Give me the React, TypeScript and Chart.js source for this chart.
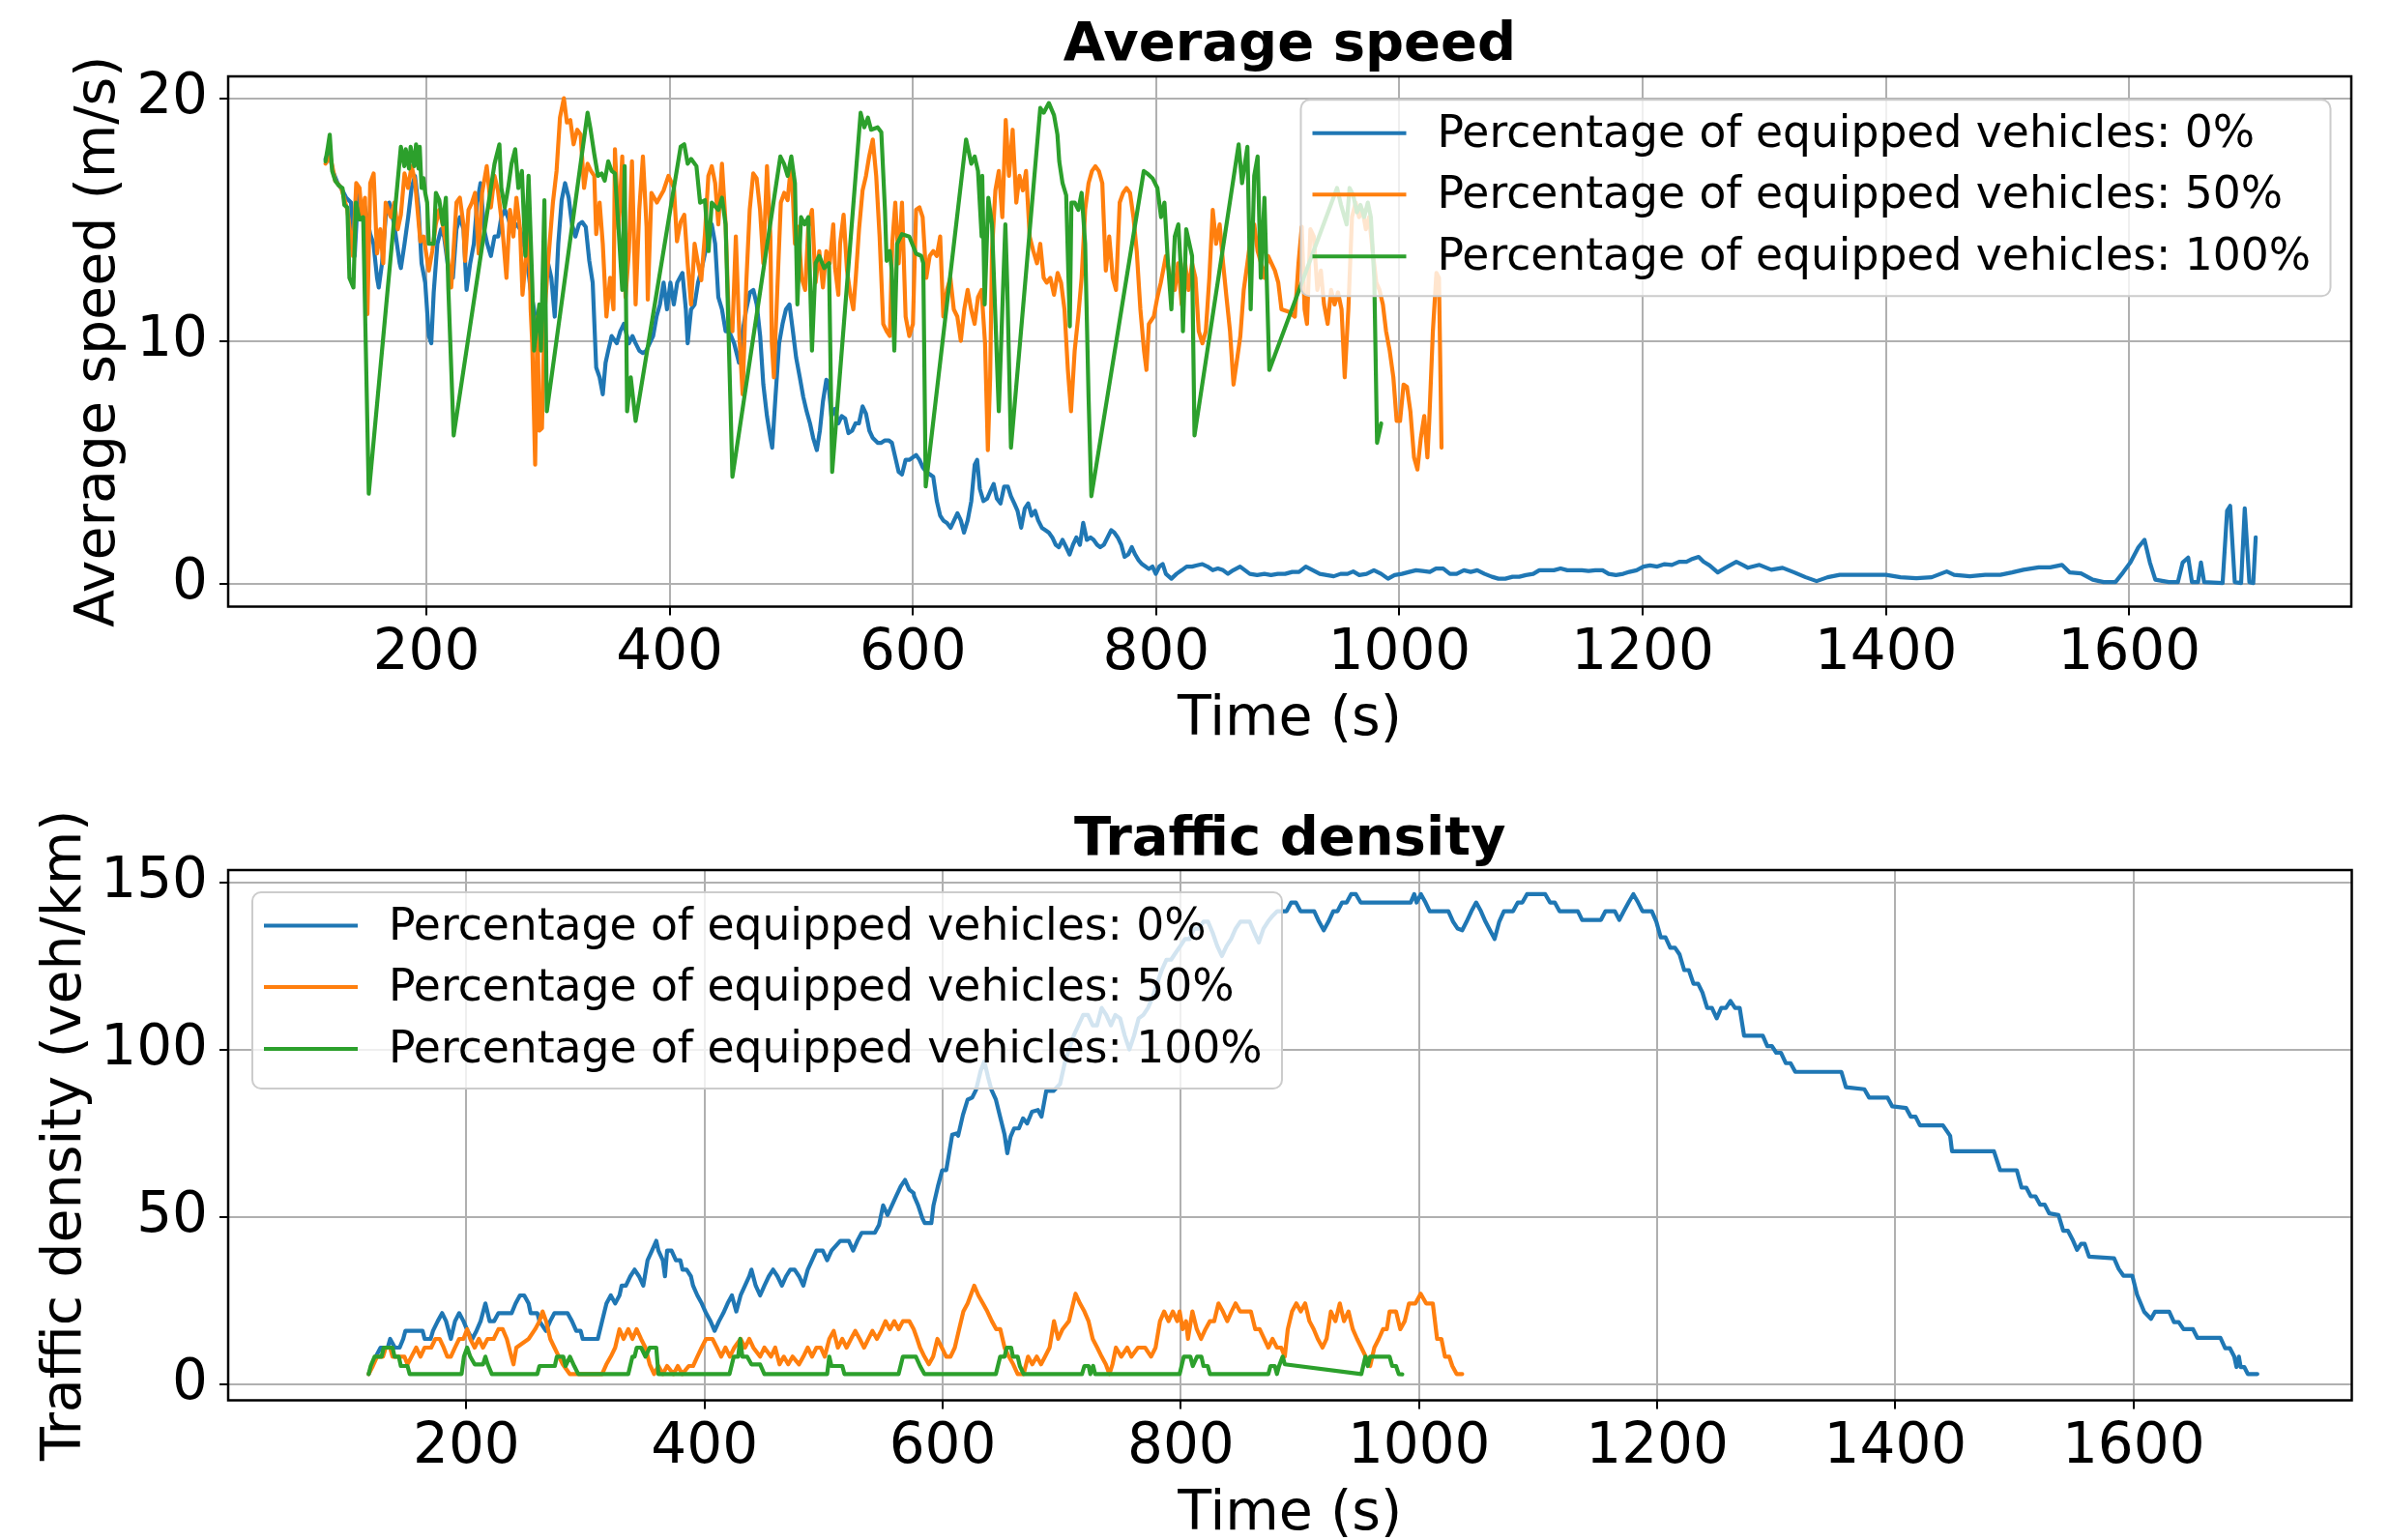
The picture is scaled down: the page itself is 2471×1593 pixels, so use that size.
import React, { useEffect, useRef } from "react";
import { Chart, registerables } from "chart.js";

Chart.register(...registerables);

const FONT = '"DejaVu Sans", "Liberation Sans", sans-serif';
const BLUE = "#1f77b4";
const ORANGE = "#ff7f0e";
const GREEN = "#2ca02c";

type Pt = [number, number];

// ---------- tick labels / texts ----------
const xTicks = [200, 400, 600, 800, 1000, 1200, 1400, 1600];
const speedTicks = [0, 10, 20];
const densityTicks = [0, 50, 100, 150];
const legendLabels = [
  "Percentage of equipped vehicles: 0%",
  "Percentage of equipped vehicles: 50%",
  "Percentage of equipped vehicles: 100%",
];

// ---------- Average speed (m/s) ----------
const speed0: Pt[] = [
  [117, 17.5], [120, 17.8], [123, 17.0], [127, 16.5], [131, 16.2], [134, 15.9], [138, 15.7], [141, 13.5], [143.8, 16.1], [146.7, 15.0],
  [149, 15.6], [153.8, 14.4], [156.5, 14.0], [159.4, 12.6], [160.8, 12.2], [163.5, 13.2], [166.5, 15.1], [169.4, 15.7], [173.5, 14.8], [178, 13.2],
  [179, 13.0], [182, 14.0], [185, 15.1], [187.8, 16.3], [190.6, 16.8], [193.5, 15.5], [196, 13.2], [199, 12.4], [202, 10.2], [204, 9.9],
  [206, 12.0], [209, 14.0], [212, 14.6], [214.5, 14.3], [219, 12.6], [221.8, 12.6], [224.7, 14.6], [227.5, 15.1], [230.5, 14.6], [233, 12.1],
  [236, 13.2], [239, 14.0], [241.7, 15.7], [244.5, 16.5], [247.4, 14.6], [250, 14.0], [253, 13.5], [256, 14.3], [259, 14.3], [261.6, 15.1],
  [264.5, 15.4], [267, 15.1], [270, 14.6], [274.3, 14.8], [277, 14.6], [280, 14.0], [283, 13.2], [285.7, 12.1], [288.5, 11.3], [291.3, 10.4],
  [294, 10.4], [297, 12.1], [300, 13.2], [302.7, 12.6], [305.5, 11.0], [308.4, 14.0], [311.2, 15.8], [314, 16.5], [317, 15.9], [319.7, 14.8],
  [322.5, 14.3], [325.4, 14.8], [328, 14.9], [331, 14.7], [333.9, 13.3], [336.7, 12.4], [339.6, 8.9], [342.4, 8.5], [345, 7.8], [347.3, 9.1],
  [349.5, 9.6], [352.3, 10.2], [356.5, 9.9], [359.4, 10.4], [362.3, 10.7], [366.5, 9.9], [369.4, 10.2], [372, 9.9], [375, 9.6], [378, 9.5],
  [380.8, 9.6], [383.6, 9.9], [386.4, 10.2], [389.2, 11.0], [392, 11.5], [395, 12.4], [397.8, 11.3], [400.6, 12.4], [403.4, 11.5], [406.2, 12.4],
  [410.5, 12.8], [413.3, 11.3], [414.8, 9.9], [417.6, 11.3], [420.5, 11.5], [423.3, 12.4], [426, 12.9], [429, 13.6], [431.8, 14.3], [434.6, 14.8],
  [437.4, 14.0], [440, 11.8], [443, 11.3], [446, 10.4], [448.8, 10.4], [453, 9.9], [457, 9.1], [460, 10.4], [463, 11.3], [466, 12.0],
  [468.8, 12.1], [471.6, 11.5], [474.4, 10.2], [477, 8.2], [480, 6.9], [482.8, 6.0], [484.3, 5.6], [487, 7.7], [490, 9.9], [492.8, 10.7],
  [495.6, 11.3], [498.5, 11.5], [501.3, 10.4], [504, 9.3], [507, 8.5], [509.8, 7.7], [512.6, 7.1], [515.4, 6.6], [518, 6.0], [521, 5.5],
  [523.5, 6.3], [526, 7.5], [528.8, 8.4], [530.5, 8.3], [533, 6.9], [536, 7.2], [538.7, 6.6], [541.5, 6.9], [544.3, 6.8], [547, 6.2],
  [550, 6.3], [552.8, 6.6], [555.6, 6.6], [558.6, 7.3], [561.4, 7.0], [564.2, 6.3], [567, 6.0], [571, 5.8], [574, 5.8], [577, 5.9],
  [580, 5.9], [582.7, 5.8], [585.5, 5.2], [588.3, 4.6], [591, 4.5], [594, 5.1], [597, 5.1], [600, 5.2], [602.6, 5.3], [605.4, 5.1],
  [608, 4.8], [611, 4.6], [614, 4.5], [616.7, 4.4], [619.6, 3.4], [622.4, 2.8], [625, 2.6], [628, 2.5], [631, 2.3], [633.8, 2.6],
  [636.6, 2.9], [639.4, 2.6], [642, 2.1], [645, 2.6], [648, 3.4], [650.8, 4.9], [652.8, 5.1], [655, 3.9], [658, 3.4], [661, 3.5],
  [663.6, 3.8], [666.4, 4.1], [669, 3.5], [672, 3.3], [675, 4.0], [678, 4.0], [680.6, 3.6], [683.4, 3.3], [686, 3.0], [689, 2.3],
  [692, 3.1], [694.8, 3.3], [697.6, 2.8], [700.4, 3.0], [703, 2.6], [706, 2.3], [709, 2.2], [711.8, 2.1], [714.6, 1.9], [717.4, 1.6],
  [720, 1.5], [723, 1.8], [726, 1.5], [728.8, 1.2], [731.6, 1.6], [734.4, 1.9], [737.3, 1.6], [740, 2.5], [743, 1.8], [746, 1.9],
  [748.6, 1.8], [751.4, 1.6], [754, 1.5], [757, 1.6], [760, 1.9], [763, 2.2], [765.6, 2.1], [768.4, 1.9], [771.3, 1.6], [774, 1.1],
  [777, 1.2], [780, 1.5], [782.7, 1.2], [785.6, 0.96], [788.4, 0.8], [791.2, 0.7], [794, 0.6], [797, 0.7], [799.7, 0.4], [802.6, 0.7],
  [805.4, 0.8], [808, 0.4], [812.5, 0.2], [816.7, 0.4], [821, 0.55], [825, 0.7], [829.4, 0.7], [833.7, 0.75], [838, 0.8], [842.2, 0.7],
  [846.5, 0.55], [850.7, 0.62], [855, 0.55], [859, 0.4], [863.4, 0.55], [869, 0.7], [873, 0.55], [877, 0.4], [883, 0.35], [889, 0.4],
  [894.4, 0.35], [900, 0.4], [906, 0.4], [911.8, 0.48], [917.5, 0.48], [923, 0.7], [928.8, 0.55], [934.5, 0.4], [940.2, 0.35], [946, 0.3],
  [951.6, 0.4], [957.3, 0.4], [962, 0.5], [967, 0.35], [973, 0.4], [979, 0.55], [985, 0.4], [990.6, 0.2], [996, 0.35], [1002, 0.4],
  [1008, 0.48], [1013.6, 0.55], [1019, 0.52], [1025, 0.48], [1030, 0.62], [1036, 0.62], [1041.5, 0.4], [1047, 0.4], [1053, 0.55], [1058.6, 0.48],
  [1064, 0.55], [1070, 0.4], [1076, 0.28], [1081.4, 0.2], [1087, 0.2], [1093, 0.28], [1098.5, 0.28], [1104, 0.35], [1110, 0.4], [1115, 0.55],
  [1121, 0.55], [1127, 0.55], [1132.5, 0.62], [1138, 0.55], [1144, 0.55], [1150, 0.55], [1155.5, 0.52], [1161, 0.55], [1167, 0.55], [1172, 0.4],
  [1178, 0.35], [1184, 0.4], [1189, 0.48], [1195, 0.55], [1200.6, 0.7], [1206, 0.75], [1212, 0.7], [1218, 0.8], [1224, 0.77], [1230, 0.9],
  [1236, 0.9], [1240, 1.0], [1246, 1.1], [1250, 0.9], [1255, 0.75], [1261.7, 0.46], [1268, 0.65], [1277, 0.9], [1283, 0.75], [1286.6, 0.65],
  [1296, 0.77], [1305.7, 0.57], [1315, 0.65], [1324.6, 0.46], [1334, 0.26], [1343, 0.1], [1352, 0.26], [1362, 0.36], [1374.6, 0.36], [1387, 0.36],
  [1400, 0.36], [1412, 0.26], [1425, 0.22], [1437.6, 0.26], [1450, 0.5], [1456, 0.36], [1469, 0.3], [1481.6, 0.36], [1494, 0.36], [1503.7, 0.46],
  [1513, 0.57], [1525.6, 0.67], [1535, 0.67], [1544.7, 0.77], [1551, 0.46], [1560.4, 0.42], [1570, 0.16], [1579, 0.06], [1588.7, 0.06], [1595, 0.46],
  [1601, 0.87], [1607.6, 1.5], [1612.6, 1.8], [1617, 0.87], [1621.5, 0.16], [1632.6, 0.06], [1640, 0.06], [1644, 0.87], [1648.5, 1.07], [1651.6, 0.06],
  [1656.6, 0.06], [1659, 0.87], [1661.6, 0.06], [1676.8, 0.02], [1680.5, 3.0], [1683, 3.2], [1686.8, 0.06], [1692, 0.02], [1695, 3.1], [1698.8, 0.06],
  [1702, 0.02], [1704, 1.9],
];

const speed50: Pt[] = [
  [117, 17.3], [121, 17.6], [125, 16.6], [130, 16.3], [135, 15.4], [139.6, 13.5], [142.3, 16.5], [145, 16.3], [146.7, 15.2], [149.5, 15.9],
  [151.5, 11.1], [153.8, 16.5], [156.6, 16.9], [159.4, 13.6], [162, 14.6], [164.5, 13.2], [166.5, 15.7], [170.8, 15.1], [173.6, 15.7], [176.5, 14.6],
  [179, 15.2], [182, 16.9], [184.9, 16.3], [187.8, 17.2], [190.6, 16.6], [195, 14.1], [197.7, 14.3], [202, 12.9], [204.8, 13.7], [207.7, 14.8],
  [210.5, 15.4], [213.4, 14.8], [216, 14.0], [220.4, 12.2], [224.7, 15.7], [227.5, 15.9], [230.4, 14.8], [231.8, 13.3], [234.6, 15.4], [237.4, 15.7],
  [240, 16.1], [243, 13.6], [245.8, 16.1], [249.6, 17.2], [253, 15.5], [256, 16.8], [258.8, 16.2], [262.2, 14.8], [265.8, 12.6], [268.7, 15.4],
  [271.5, 14.3], [274, 15.9], [277, 14.6], [279, 11.9], [281.4, 13.2], [284.3, 14.6], [285.7, 11.3], [287, 9.9], [289.4, 4.9], [291.3, 11.0],
  [292.8, 6.3], [295, 6.4], [297, 11.0], [300, 13.2], [304, 15.7], [307, 17.0], [309.8, 19.2], [313, 20.0], [315.5, 19.0], [318.3, 19.1],
  [321, 18.1], [324, 18.7], [326.8, 18.5], [329.6, 16.3], [332.5, 17.3], [335.3, 17.0], [338, 16.8], [339.6, 14.4], [342.4, 15.7], [345, 14.0],
  [348, 11.0], [351, 12.6], [353.8, 11.3], [355, 17.9], [358, 14.6], [361, 17.6], [363.7, 11.8], [366.5, 13.7], [369, 17.4], [372, 11.5],
  [375, 15.4], [378, 17.6], [381, 14.7], [382, 11.7], [385, 16.1], [389.5, 15.7], [395, 16.2], [399, 16.8], [403.5, 16.3], [406, 14.1],
  [409, 14.9], [412, 15.2], [414.8, 13.2], [417.6, 11.5], [420.5, 14.0], [423.3, 13.2], [426, 12.5], [429, 14.4], [431.8, 16.8], [434.6, 17.2],
  [437.4, 16.5], [440, 14.8], [443, 17.3], [446, 14.8], [448.8, 10.6], [451.6, 10.4], [454.4, 14.3], [457.3, 10.2], [460, 7.8], [463, 12.4],
  [465.8, 15.4], [468.7, 16.9], [471.5, 16.7], [474.3, 15.4], [477, 13.2], [480, 17.2], [482.8, 14.3], [484, 9.9], [485.7, 8.5], [488.5, 12.1],
  [491.4, 15.7], [494.2, 16.1], [497, 15.8], [500, 17.4], [503, 14.0], [505.7, 14.7], [508.5, 12.6], [511.4, 12.1], [514, 14.7], [517, 15.4],
  [520, 12.4], [523, 13.7], [526, 12.2], [528.8, 13.7], [531.6, 13.2], [534.5, 14.8], [536, 13.0], [538.7, 11.9], [540.1, 14.0], [543, 15.2],
  [545.8, 12.9], [548.6, 11.9], [551, 11.3], [553, 12.6], [555.7, 14.6], [558.6, 16.2], [561.4, 16.8], [564, 17.6], [567, 18.3], [569.8, 16.8],
  [572.6, 14.3], [575.6, 10.7], [578.4, 10.4], [581, 10.2], [583, 14.0], [585.5, 15.7], [588.3, 13.2], [591, 15.7], [594, 11.0], [597, 10.2],
  [600, 10.7], [602.6, 15.4], [605.4, 15.5], [608, 15.1], [611, 12.6], [613.8, 13.5], [616.7, 13.7], [619.6, 13.5], [622.4, 14.3], [625, 11.0],
  [628, 12.1], [630.8, 12.6], [633.6, 11.3], [636.5, 11.0], [639.4, 10.0], [642.2, 11.3], [645, 12.1], [647.8, 11.3], [650.7, 10.7], [653.5, 11.8],
  [656.4, 12.1], [659.3, 9.9], [661.6, 5.5], [663.5, 8.5], [665, 13.7], [667.8, 16.2], [670.6, 17.0], [673.5, 15.1], [676.3, 19.1], [679, 16.8],
  [682, 18.7], [685, 15.7], [687.6, 16.8], [690.4, 16.2], [693, 17.0], [696, 14.3], [699, 13.7], [702, 13.2], [704.7, 14.0], [707.5, 12.6],
  [710, 12.4], [713, 12.6], [716, 11.9], [719, 12.8], [721.8, 12.4], [724.6, 11.3], [727.4, 8.8], [730, 7.1], [733, 9.6], [735.9, 11.0],
  [738.7, 12.6], [741.6, 15.4], [744.4, 16.5], [747.2, 17.0], [750, 17.2], [752.9, 17.0], [755.7, 16.5], [758.6, 12.9], [761.4, 14.3], [764.3, 12.6],
  [767, 12.1], [770, 15.7], [772.8, 16.1], [775.6, 16.3], [778.5, 16.1], [781.3, 15.1], [784, 13.7], [787, 11.3], [790, 9.6], [792, 8.8],
  [794, 10.7], [798, 11.0], [801, 11.8], [803.8, 12.4], [808, 13.5], [812.5, 12.4], [815.3, 12.1], [818, 13.2], [821, 11.5], [823.8, 13.2],
  [826.6, 12.1], [829.5, 13.2], [832.3, 12.6], [835, 10.4], [838, 9.9], [840.8, 10.4], [843.7, 12.6], [846.5, 15.4], [849.3, 14.0], [852.2, 14.8],
  [855, 13.2], [857.8, 11.8], [860.7, 10.4], [863.6, 8.2], [866.4, 9.2], [869.2, 10.2], [872, 12.1], [875, 13.2], [877.8, 14.3], [880.6, 14.8],
  [883.4, 13.7], [886.3, 13.2], [889, 12.6], [892, 13.5], [894.8, 13.2], [897.6, 12.9], [900.4, 12.4], [903, 11.3], [909, 11.2], [914, 11.0],
  [917, 13.2], [919.7, 14.7], [922, 11.3], [924, 10.7], [926.8, 14.6], [929.6, 14.3], [932.5, 12.1], [935.4, 12.9], [938, 11.5], [941, 10.7],
  [943.8, 12.1], [946.7, 11.5], [949.5, 12.0], [952.4, 11.3], [955, 8.5], [958, 11.3], [961, 15.1], [964, 15.7], [966.8, 15.1], [969.6, 15.4],
  [972.4, 14.6], [975, 15.1], [978, 13.7], [981, 12.4], [983.6, 12.1], [986.4, 11.5], [989, 10.4], [992, 9.6], [995, 8.5], [997.7, 6.7],
  [1000.5, 6.7], [1003.4, 8.2], [1006.2, 8.1], [1009, 7.1], [1012, 5.2], [1014.8, 4.7], [1017.6, 6.0], [1020.4, 6.9], [1023, 5.2], [1024.5, 6.7],
  [1027.5, 10.4], [1030.4, 12.8], [1032.5, 12.6], [1034.6, 5.6],
];

const speed100: Pt[] = [
  [117, 17.4], [119, 18.0], [120.5, 18.5], [122.5, 17.0], [125, 16.6], [128, 16.4], [131, 16.3], [132.5, 15.6], [135, 15.5], [136.7, 12.6],
  [140, 12.2], [142, 15.7], [145, 15.0], [148, 15.1], [152.6, 3.7], [179, 18.0], [181.8, 17.2], [183, 17.9], [185.7, 17.1], [187, 18.0],
  [190, 17.2], [191.5, 18.1], [193.5, 17.1], [194.5, 18.0], [196, 16.3], [197.6, 16.7], [199, 16.1], [200.6, 15.7], [202, 14.0], [206, 14.0],
  [207.8, 16.1], [210.6, 15.8], [213.4, 14.8], [216, 15.9], [218, 12.2], [222.4, 6.1], [256, 17.3], [260, 18.1], [261.6, 16.3], [264.4, 15.5],
  [267.2, 16.3], [270, 17.3], [273, 17.9], [275.6, 16.3], [278.5, 17.0], [281.4, 13.5], [284, 16.8], [287, 12.4], [288.5, 9.6], [292.8, 11.5],
  [294.2, 9.6], [297, 15.8], [299, 7.1], [332.5, 19.4], [335, 18.7], [338, 17.7], [341, 16.8], [344, 16.9], [346.6, 16.6], [349.5, 17.4],
  [352.3, 17.0], [355, 16.9], [358, 14.6], [361, 12.1], [363, 17.2], [365, 7.1], [368, 8.5], [372, 6.7], [409, 18.0], [412, 18.1],
  [414.8, 17.3], [417.6, 17.5], [422, 17.2], [425, 15.7], [429, 15.8], [432, 13.7], [434.6, 15.7], [440, 15.4], [443, 15.9], [446, 14.8],
  [451.6, 4.4], [491, 17.6], [494, 17.3], [497, 16.8], [500, 17.6], [503, 16.5], [505, 11.5], [508, 15.1], [511, 14.8], [514, 15.1],
  [517, 9.6], [520, 13.2], [523, 13.5], [527, 13.0], [531, 13.2], [533.6, 4.6], [557, 19.4], [560, 18.8], [563, 19.2], [565.6, 18.7],
  [571, 18.8], [574, 18.6], [577, 15.4], [578.4, 13.3], [581, 13.7], [582.6, 12.9], [584.7, 9.6], [587, 14.0], [591, 14.4], [597, 14.3],
  [602.6, 13.6], [606.8, 13.5], [608.5, 13.2], [610.5, 4.0], [643.7, 18.3], [648, 17.3], [650.8, 17.6], [653.5, 17.0], [656.5, 14.3], [657, 16.8],
  [659, 11.5], [662, 15.9], [665, 14.8], [670.6, 7.1], [673.5, 11.3], [676, 14.8], [677.5, 12.4], [680.6, 5.6], [704.7, 19.6], [707.5, 19.4],
  [711.8, 19.8], [716, 19.3], [718.8, 18.5], [720.3, 17.4], [723, 16.5], [726, 16.0], [729, 10.6], [730.3, 15.7], [733, 15.7], [736, 15.4],
  [738.7, 16.1], [741.6, 14.0], [744.4, 7.7], [746.7, 3.6], [789.8, 17.0], [792.6, 16.9], [797, 16.7], [801, 16.3], [804, 15.1], [806.8, 15.7],
  [809.7, 13.2], [812.5, 11.3], [815.3, 14.3], [818.2, 14.8], [821, 12.4], [822, 10.4], [824.7, 14.6], [829.5, 13.5], [831.5, 6.1], [867.8, 18.1],
  [870.6, 16.5], [875, 18.0], [877.7, 11.3], [880.6, 16.8], [883.4, 17.6], [886, 12.6], [889, 15.9], [893, 8.8], [948.7, 16.3], [952, 15.6],
  [956.6, 14.8], [959, 16.3], [962, 16.0], [965, 15.3], [968, 15.6], [971, 15.1], [974, 15.7], [976.5, 15.1], [979.3, 12.6], [981.6, 5.8],
  [985, 6.6],
];

// ---------- Traffic density (veh/km) ----------
const density0: Pt[] = [
  [118, 3.1], [121, 5.7], [124, 8.3], [128, 11.0], [134, 11.0], [136, 13.6], [140, 11.0], [144, 11.0], [147, 13.6], [148.8, 16.0],
  [163.3, 16.0], [165, 13.6], [170, 13.6], [172, 16.0], [176, 18.9], [179.7, 21.3], [183, 18.9], [187, 13.6], [190.5, 18.9], [194, 21.3],
  [197.6, 18.9], [201, 16.0], [205, 13.6], [208.5, 16.0], [212, 18.9], [216, 24.2], [219.6, 18.9], [223.3, 18.9], [227, 21.3], [238, 21.3],
  [241.4, 24.2], [245, 26.6], [248.6, 26.6], [252.3, 24.2], [254, 21.3], [259.6, 21.3], [261.4, 18.9], [266.8, 16.0], [270.4, 18.9], [274, 21.3],
  [285, 21.3], [288.7, 18.9], [292.3, 16.0], [296, 16.0], [297.7, 13.6], [310.4, 13.6], [314, 18.9], [317.7, 24.2], [321.3, 26.6], [325, 24.2],
  [328.6, 26.6], [330.4, 29.5], [334, 29.5], [337.7, 32.3], [341.3, 34.3], [345, 32.3], [348.6, 29.5], [352.2, 37.1], [355.9, 40.0], [359.5, 42.9],
  [361.3, 40.0], [365, 37.1], [366.8, 32.3], [368.6, 40.0], [372.3, 40.0], [376, 37.1], [379.7, 37.1], [381.5, 34.3], [385, 34.3], [388.6, 32.3],
  [390.4, 29.5], [394, 26.6], [397.7, 24.2], [401.3, 21.3], [405, 18.9], [408.5, 16.0], [412.2, 18.9], [415.8, 21.3], [419.4, 24.2], [423, 26.6],
  [426.7, 21.8], [430.3, 26.6], [434, 29.5], [437.6, 32.3], [439.4, 34.3], [443, 29.5], [446.7, 26.6], [450.3, 29.5], [454, 32.3], [457.6, 34.3],
  [461.3, 32.3], [465, 29.5], [468.5, 32.3], [472, 34.3], [475.7, 34.3], [479.4, 32.3], [483, 29.5], [486.7, 34.3], [490.3, 37.1], [494, 40.0],
  [499.3, 40.0], [503, 37.1], [506.7, 40.0], [514, 42.9], [521.2, 42.9], [524.8, 40.0], [528.4, 42.9], [532, 45.3], [543, 45.3], [546.6, 47.7],
  [550, 53.5], [553.7, 50.6], [557.4, 53.5], [561, 56.3], [564.8, 59.2], [568.4, 61.1], [572, 58.2], [575.6, 57.2], [576, 56.3], [579.4, 53.5],
  [583, 49.6], [585, 48.2], [590.5, 48.2], [592.3, 53.5], [596, 59.2], [599.6, 64.0], [603, 64.0], [604.4, 66.9], [608, 74.6], [611.6, 75.0],
  [613, 74.3], [617, 80.5], [621, 85.1], [624.8, 85.7], [628, 88.0], [632, 93.8], [635, 96.5], [638, 92.0], [641, 88.0], [644.7, 85.1],
  [648, 80.3], [652, 74.6], [654.3, 69.1], [657, 74.0], [660, 76.5], [664, 76.5], [667.5, 79.5], [671, 78.0], [675, 81.5], [680, 82.0],
  [683, 80.0], [687, 87.7], [693, 87.7], [698.6, 89.8], [702.5, 96.0], [706, 100.0], [710, 104.2], [714, 107.3], [718, 110.4], [722, 110.4],
  [726, 107.3], [729.6, 107.3], [733.5, 112.5], [737.4, 110.4], [741.3, 107.3], [745, 110.4], [749, 109.4], [752.9, 104.2], [756.8, 100.1], [760.7, 104.2],
  [764.6, 109.4], [768.5, 110.4], [772.4, 112.5], [776.2, 115.6], [780, 119.7], [784, 123.8], [787.9, 126.9], [791.8, 126.9], [795.7, 129.0], [799.6, 131.0],
  [803.4, 133.1], [807.3, 133.1], [811, 136.2], [815, 136.2], [819, 138.3], [822.8, 138.3], [826.7, 135.0], [830.6, 131.0], [834.5, 128.0], [838.4, 131.0],
  [842.2, 133.1], [846, 136.2], [850, 138.3], [854, 138.3], [857.8, 138.3], [861.7, 135.0], [865.5, 132.1], [869.4, 136.2], [873.2, 138.3], [877, 140.0],
  [881, 141.4], [888.8, 141.4], [892.7, 144.0], [896.6, 144.0], [900.5, 141.4], [912, 141.4], [916, 138.3], [920, 135.7], [924, 138.3], [928, 141.4],
  [931.6, 141.4], [935.4, 144.0], [939.3, 144.0], [943, 146.5], [947, 146.5], [951, 144.0], [962.6, 144.0], [989.7, 144.0], [993, 144.0], [996, 146.5],
  [998, 144.0], [1001.6, 146.5], [1005.5, 144.0], [1009, 141.4], [1013, 141.4], [1024.7, 141.4], [1028.6, 138.3], [1032.5, 136.2], [1036.3, 135.7], [1040, 138.3],
  [1044, 141.4], [1048, 144.0], [1052, 141.4], [1055.8, 138.3], [1059.6, 135.7], [1063.5, 133.1], [1067.4, 138.3], [1071.3, 141.4], [1079, 141.4], [1083, 144.0],
  [1086.8, 144.0], [1090.7, 146.5], [1098.5, 146.5], [1106, 146.5], [1110, 144.0], [1114, 144.0], [1118, 141.4], [1133.4, 141.4], [1137, 138.8], [1152.8, 138.8],
  [1156.6, 141.4], [1164.4, 141.4], [1168.2, 138.8], [1172, 141.4], [1176, 144.0], [1180, 146.5], [1184, 144.0], [1187.7, 141.4], [1195.5, 141.4], [1199.3, 138.3],
  [1203, 133.6], [1207, 133.6], [1211, 130.5], [1215, 130.5], [1218.8, 128.5], [1222.7, 123.8], [1226.6, 123.8], [1230.5, 119.7], [1234.4, 119.7], [1238, 117.1],
  [1242, 112.5], [1246, 112.5], [1250, 109.4], [1253.8, 112.5], [1257.7, 112.5], [1261.5, 114.6], [1265.4, 112.5], [1269.3, 112.5], [1273, 104.2], [1288.7, 104.2],
  [1292.5, 101.1], [1296.4, 101.1], [1300, 99.1], [1304, 99.1], [1308, 96.0], [1312, 96.0], [1316, 93.4], [1354.7, 93.4], [1358.5, 88.8], [1374, 88.2],
  [1378, 85.7], [1393.5, 85.7], [1397.4, 83.1], [1409, 82.6], [1413, 80.0], [1417, 80.0], [1420.7, 77.4], [1440, 77.4], [1446, 74.3], [1447.6, 69.7],
  [1482.8, 69.7], [1488, 64.0], [1502, 64.0], [1506, 58.8], [1510, 58.8], [1513.8, 56.2], [1517.7, 56.2], [1521.6, 53.7], [1525.5, 53.7], [1529.3, 51.1],
  [1537, 50.6], [1541, 45.9], [1545, 45.9], [1548.8, 43.3], [1552.6, 40.2], [1556, 42.0], [1559, 42.0], [1562.7, 38.2], [1583.7, 37.7], [1587.6, 34.5],
  [1591.5, 32.5], [1599, 32.5], [1603, 26.8], [1609, 21.7], [1614.7, 19.6], [1618, 21.7], [1630, 21.7], [1634, 18.6], [1638, 18.6], [1642, 16.5],
  [1650, 16.5], [1653.7, 13.9], [1673, 13.9], [1677, 10.8], [1681, 10.8], [1684.6, 8.3], [1686.5, 5.2], [1688.5, 8.3], [1690, 5.2], [1693, 5.2],
  [1696, 3.1], [1704, 3.1],
];

const density50: Pt[] = [
  [118, 3.1], [121.5, 5.5], [125, 8.3], [130, 8.3], [132.4, 11.0], [136, 11.0], [138, 8.3], [145, 8.3], [148, 8.3], [150.6, 6.0],
  [154, 8.3], [157.9, 11.0], [161.5, 8.3], [165, 11.0], [170.5, 11.0], [174, 13.6], [177.6, 13.6], [181, 11.0], [184, 8.3], [187, 8.3],
  [190.5, 11.0], [194, 13.6], [197.6, 13.6], [200.7, 16.5], [203.3, 13.6], [207, 11.0], [210.5, 13.6], [214, 11.0], [217.8, 13.6], [223, 13.6],
  [227, 16.5], [230.5, 16.5], [234, 13.6], [237.8, 8.3], [239.6, 6.0], [242, 11.0], [252.3, 13.6], [257.8, 16.5], [261.4, 18.9], [264, 21.8],
  [267, 18.9], [270.5, 13.6], [274, 11.0], [277.7, 8.3], [281, 6.0], [286.8, 3.1], [314, 3.1], [317.6, 6.0], [321.3, 8.3], [325, 11.0],
  [328.6, 16.5], [332, 13.6], [336, 16.5], [339.5, 13.6], [343, 16.5], [346.7, 13.6], [350.4, 11.0], [354, 6.0], [357.7, 3.1], [361.3, 5.5],
  [365, 3.1], [368.6, 5.5], [374, 3.1], [377.6, 5.5], [381.3, 3.1], [386.8, 5.5], [390.4, 5.5], [394, 8.3], [397.6, 11.0], [401.3, 13.6],
  [406.7, 13.6], [410.4, 11.0], [414, 8.3], [417.6, 11.0], [421.3, 8.3], [425, 11.0], [430.3, 13.6], [434, 11.0], [437.6, 13.6], [441, 11.0],
  [446.7, 8.3], [450.3, 11.0], [455.8, 8.3], [459.4, 11.0], [463, 6.0], [466.6, 8.3], [470.3, 6.0], [474, 8.3], [479.4, 6.0], [483, 8.3],
  [486.7, 11.0], [490.3, 8.3], [494, 11.0], [497.6, 11.0], [501, 8.3], [504.8, 13.6], [508.5, 16.0], [512, 11.0], [515.7, 13.6], [519.3, 11.0],
  [523, 13.6], [526.6, 16.0], [530.3, 13.6], [534, 11.0], [537.6, 13.6], [541, 16.0], [544.8, 13.6], [548.4, 16.0], [552, 18.9], [555.7, 16.5],
  [559.4, 18.9], [563, 16.5], [566.6, 18.9], [572, 18.9], [575.7, 16.5], [578.6, 13.6], [581, 11.0], [584.7, 8.3], [588.4, 6.0], [592, 8.3],
  [595.6, 13.6], [599.3, 11.0], [603, 8.3], [606.6, 8.3], [610.2, 11.0], [613.8, 16.5], [617.4, 21.8], [621, 24.2], [626.5, 29.5], [630, 26.6],
  [633.8, 24.2], [637.5, 21.8], [641.3, 18.9], [645, 16.5], [648.4, 16.5], [652, 11.0], [655.6, 8.3], [659.3, 6.0], [663, 3.1], [668, 3.1],
  [671.7, 8.3], [675.3, 6.0], [679, 8.3], [682.6, 6.0], [686, 8.3], [689.8, 11.0], [693.5, 18.9], [697, 13.6], [700.7, 16.5], [706, 18.9],
  [711.6, 27.1], [715.3, 24.2], [719, 21.8], [722.5, 18.9], [726, 13.6], [729.8, 11.0], [733.5, 8.3], [737, 6.0], [740, 3.1], [742.6, 6.0],
  [745.5, 11.0], [750, 8.3], [755, 11.0], [758.5, 8.3], [764, 11.0], [770, 11.0], [775, 8.3], [778.8, 11.0], [782.5, 18.9], [786, 21.8],
  [789.7, 18.9], [793.3, 21.8], [797, 18.9], [799, 21.8], [801.5, 16.5], [804.4, 18.9], [806, 13.6], [809.7, 21.8], [813.4, 16.5], [817, 13.6],
  [820.7, 16.5], [824.4, 18.9], [828, 18.9], [831.6, 24.2], [835.3, 21.8], [839, 18.9], [842.6, 21.8], [846, 24.2], [849.7, 21.8], [855, 21.8],
  [858.8, 21.8], [862.5, 16.5], [866.2, 16.5], [870, 13.6], [873.5, 11.0], [877, 13.6], [880.7, 11.0], [884.3, 11.0], [887.3, 8.3], [889.8, 16.5],
  [893.4, 21.8], [897, 24.2], [900.7, 21.8], [904.4, 24.2], [908, 18.9], [911.6, 16.5], [915, 13.6], [919, 11.0], [922.4, 13.6], [926, 21.8],
  [929.8, 18.9], [933.5, 24.2], [937, 18.9], [940.8, 21.8], [944.4, 16.5], [948, 13.6], [951.6, 11.0], [955.3, 8.3], [959, 5.5], [962.5, 11.0],
  [966.2, 13.6], [969.8, 16.5], [973, 16.5], [975.3, 21.8], [980.7, 21.8], [984.3, 16.5], [988, 18.9], [991.6, 24.2], [997, 24.2], [1001.4, 27.1],
  [1006, 24.2], [1011.6, 24.2], [1015.2, 13.6], [1018.8, 13.6], [1021.8, 8.3], [1025.4, 8.3], [1028, 5.5], [1031.6, 3.1], [1036.3, 3.1],
];

const density100: Pt[] = [
  [118, 3.1], [119.7, 5.5], [123, 8.3], [128.8, 8.3], [130.6, 11.0], [138, 11.0], [139.7, 8.3], [143.3, 8.3], [145, 5.5], [150.6, 5.5],
  [152.4, 3.1], [196, 3.1], [198, 8.3], [200.7, 11.0], [203.3, 8.3], [207, 6.0], [214, 6.0], [216, 8.3], [218, 6.0], [221.4, 3.1],
  [259.6, 3.1], [261.4, 5.5], [274.3, 5.5], [276, 8.3], [281.4, 8.3], [283.3, 5.5], [287, 8.3], [290.6, 5.5], [294, 3.1], [336, 3.1],
  [339.5, 8.3], [341.3, 8.3], [343.1, 11.0], [346.8, 11.0], [350.4, 8.3], [354, 11.0], [359.5, 11.0], [361.3, 3.1], [421, 3.1], [424.6, 8.3],
  [428.3, 8.3], [430, 13.6], [431.8, 8.3], [435.8, 8.3], [439.4, 6.0], [446.7, 6.0], [450.3, 3.1], [503, 3.1], [504.8, 8.3], [506.6, 5.5],
  [515.7, 5.5], [517.5, 3.1], [563, 3.1], [566.6, 8.3], [577.5, 8.3], [581, 5.5], [584.7, 3.1], [644.7, 3.1], [648.3, 8.3], [652, 8.3],
  [653.8, 11.0], [657.5, 11.0], [659, 8.3], [663, 8.3], [664.8, 5.5], [668, 3.1], [717, 3.1], [719, 5.5], [722.6, 5.5], [724, 3.1],
  [726.4, 5.5], [728, 3.1], [799, 3.1], [802.5, 8.3], [808, 8.3], [810, 5.5], [813.6, 8.3], [817.3, 8.3], [819, 5.5], [822.6, 5.5],
  [824.4, 3.1], [873.5, 3.1], [875.3, 5.5], [878.9, 5.5], [880.7, 3.1], [882.5, 5.5], [885.5, 8.3], [887.3, 6.0], [951.6, 3.1], [955, 8.3],
  [957, 5.5], [959, 8.3], [962.5, 8.3], [975.3, 8.3], [977.5, 5.5], [980.7, 5.5], [983, 3.1], [986, 3.0],
];

// ---------- panel specs ----------
interface PanelSpec {
  title: string;
  yLabel: string;
  series: Pt[][];
  yTicks: number[];
  xMin: number;
  xMax: number;
  yMin: number;
  yMax: number;
  canvasH: number;
  padTop: number;
  padRight: number;
  xAxisH: number;
  titleY: number;
  xLabelY: number;
  yLabelX: number;
  legendX: number;
  legendY: number;
}

const panels: PanelSpec[] = [
  {
    title: "Average speed",
    yLabel: "Average speed (m/s)",
    series: [speed0, speed50, speed100],
    yTicks: speedTicks,
    xMin: 37,
    xMax: 1782.6,
    yMin: -0.95,
    yMax: 20.9,
    canvasH: 790,
    padTop: 79,
    padRight: 39,
    xAxisH: 162.5,
    titleY: 62,
    xLabelY: 760,
    yLabelX: 118,
    legendX: 1345.5,
    legendY: 103.3,
  },
  {
    title: "Traffic density",
    yLabel: "Traffic density (veh/km)",
    series: [density0, density50, density100],
    yTicks: densityTicks,
    xMin: 0,
    xMax: 1783.3,
    yMin: -4.75,
    yMax: 153.7,
    canvasH: 803,
    padTop: 110,
    padRight: 38.5,
    xAxisH: 144.5,
    titleY: 93.5,
    xLabelY: 791.5,
    yLabelX: 83,
    legendX: 261,
    legendY: 133,
  },
];

const COLORS = [BLUE, ORANGE, GREEN];
const LEG_W = 1065;
const LEG_H = 203;
const LEG_ROWS = [34.5, 98, 162];

function roundedRect(ctx: CanvasRenderingContext2D, x: number, y: number, w: number, h: number, r: number) {
  ctx.beginPath();
  ctx.moveTo(x + r, y);
  ctx.lineTo(x + w - r, y);
  ctx.arcTo(x + w, y, x + w, y + r, r);
  ctx.lineTo(x + w, y + h - r);
  ctx.arcTo(x + w, y + h, x + w - r, y + h, r);
  ctx.lineTo(x + r, y + h);
  ctx.arcTo(x, y + h, x, y + h - r, r);
  ctx.lineTo(x, y + r);
  ctx.arcTo(x, y, x + r, y, r);
  ctx.closePath();
}

function Panel({ spec, top }: { spec: PanelSpec; top: number }) {
  const ref = useRef<HTMLCanvasElement | null>(null);

  useEffect(() => {
    const canvas = ref.current;
    if (!canvas) return;

    const decor = {
      id: "decor",
      afterDatasetsDraw(chart: any) {
        const ctx: CanvasRenderingContext2D = chart.ctx;
        ctx.save();
        roundedRect(ctx, spec.legendX, spec.legendY, LEG_W, LEG_H, 9);
        ctx.fillStyle = "rgba(255,255,255,0.8)";
        ctx.fill();
        ctx.strokeStyle = "#cccccc";
        ctx.lineWidth = 2;
        ctx.stroke();
        ctx.font = `45.6px ${FONT}`;
        ctx.textAlign = "left";
        ctx.textBaseline = "alphabetic";
        LEG_ROWS.forEach((dy, i) => {
          const ly = spec.legendY + dy;
          ctx.beginPath();
          ctx.strokeStyle = COLORS[i];
          ctx.lineWidth = 4;
          ctx.lineCap = "butt";
          ctx.moveTo(spec.legendX + 12, ly);
          ctx.lineTo(spec.legendX + 109, ly);
          ctx.stroke();
          ctx.fillStyle = "#000";
          ctx.fillText(legendLabels[i], spec.legendX + 141, ly + 14);
        });
        ctx.restore();
      },
      afterDraw(chart: any) {
        const ctx: CanvasRenderingContext2D = chart.ctx;
        const a = chart.chartArea;
        const cx = (a.left + a.right) / 2;
        const cy = (a.top + a.bottom) / 2;
        ctx.save();
        ctx.strokeStyle = "#000";
        ctx.lineWidth = 2.5;
        ctx.strokeRect(a.left, a.top, a.right - a.left, a.bottom - a.top);
        ctx.fillStyle = "#000";
        ctx.textAlign = "center";
        ctx.textBaseline = "alphabetic";
        ctx.font = `bold 56px ${FONT}`;
        ctx.fillText(spec.title, cx, spec.titleY);
        ctx.font = `57px ${FONT}`;
        ctx.fillText("Time (s)", cx, spec.xLabelY);
        ctx.translate(spec.yLabelX, cy);
        ctx.rotate(-Math.PI / 2);
        ctx.fillText(spec.yLabel, 0, 0);
        ctx.restore();
      },
    };

    const chart = new Chart(canvas, {
      type: "line",
      data: {
        datasets: spec.series.map((s, i) => ({
          label: legendLabels[i],
          data: s.map(([x, y]) => ({ x, y })),
          borderColor: COLORS[i],
          backgroundColor: COLORS[i],
          borderWidth: 4.2,
          borderJoinStyle: "round" as const,
          borderCapStyle: "round" as const,
          pointRadius: 0,
          pointHoverRadius: 0,
          fill: false,
          tension: 0,
          order: 2 - i,
        })),
      },
      options: {
        animation: false,
        responsive: false,
        devicePixelRatio: 1,
        events: [],
        layout: { padding: { top: spec.padTop, right: spec.padRight, left: 0, bottom: 0 } },
        plugins: {
          legend: { display: false },
          tooltip: { enabled: false },
          title: { display: false },
        },
        scales: {
          x: {
            type: "linear",
            min: spec.xMin,
            max: spec.xMax,
            afterBuildTicks: (s: any) => {
              s.ticks = xTicks.map((v) => ({ value: v }));
            },
            afterFit: (s: any) => {
              s.height = spec.xAxisH;
            },
            ticks: {
              autoSkip: false,
              maxRotation: 0,
              minRotation: 0,
              padding: 6,
              color: "#000",
              font: { family: FONT, size: 58 },
              callback: (v: any) => String(v),
            },
            grid: {
              color: "#b0b0b0",
              lineWidth: 2,
              drawTicks: true,
              tickLength: 9,
              tickColor: "#000",
              tickWidth: 2,
            },
            border: { display: false },
          },
          y: {
            type: "linear",
            min: spec.yMin,
            max: spec.yMax,
            afterBuildTicks: (s: any) => {
              s.ticks = spec.yTicks.map((v) => ({ value: v }));
            },
            afterFit: (s: any) => {
              s.width = 236;
            },
            ticks: {
              autoSkip: false,
              padding: 12,
              color: "#000",
              font: { family: FONT, size: 58 },
              callback: (v: any) => String(v),
            },
            grid: {
              color: "#b0b0b0",
              lineWidth: 2,
              drawTicks: true,
              tickLength: 9,
              tickColor: "#000",
              tickWidth: 2,
            },
            border: { display: false },
          },
        },
      },
      plugins: [decor],
    } as any);

    return () => {
      chart.destroy();
    };
  }, [spec]);

  return (
    <canvas
      ref={ref}
      width={2471}
      height={spec.canvasH}
      style={{ position: "absolute", left: 0, top, width: 2471, height: spec.canvasH, display: "block" }}
    />
  );
}

export default function App() {
  return (
    <div
      style={{
        position: "fixed",
        left: 0,
        top: 0,
        width: 2471,
        height: 1593,
        background: "#ffffff",
        overflow: "hidden",
      }}
    >
      <Panel spec={panels[0]} top={0} />
      <Panel spec={panels[1]} top={790} />
    </div>
  );
}
